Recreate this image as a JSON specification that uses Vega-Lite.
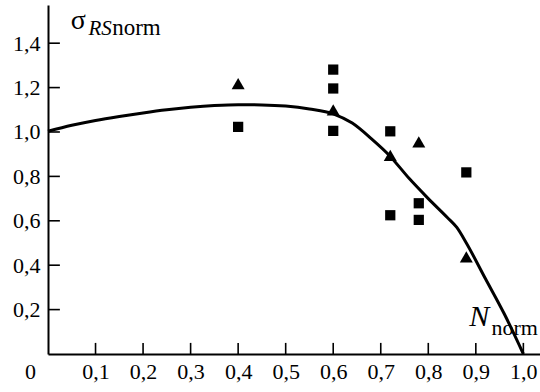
{
  "$schema": "https://vega.github.io/schema/vega-lite/v6.json",
  "width": 492,
  "height": 349,
  "autosize": "none",
  "padding": {"left": 48, "top": 5, "right": 0, "bottom": 38},
  "background": "white",
  "config": {
    "view": {"stroke": null},
    "font": "Liberation Serif",
    "axis": {
      "grid": false,
      "domainColor": "black",
      "domainWidth": 2,
      "ticks": false,
      "tickSize": 0,
      "labelFont": "Liberation Serif",
      "labelFontSize": 22,
      "labelColor": "black",
      "labelOverlap": false,
      "labelFlush": false,
      "title": null
    }
  },
  "datasets": {
    "curve": [
      {"n": 0.0, "s": 1.003},
      {"n": 0.05, "s": 1.03},
      {"n": 0.1, "s": 1.052},
      {"n": 0.15, "s": 1.07},
      {"n": 0.2, "s": 1.086},
      {"n": 0.25, "s": 1.1},
      {"n": 0.3, "s": 1.111},
      {"n": 0.35, "s": 1.119},
      {"n": 0.4, "s": 1.123},
      {"n": 0.45, "s": 1.122},
      {"n": 0.5, "s": 1.117},
      {"n": 0.55, "s": 1.104},
      {"n": 0.6, "s": 1.082},
      {"n": 0.64, "s": 1.04},
      {"n": 0.68, "s": 0.97},
      {"n": 0.72, "s": 0.89},
      {"n": 0.76, "s": 0.79},
      {"n": 0.8, "s": 0.7},
      {"n": 0.84, "s": 0.615},
      {"n": 0.86, "s": 0.57},
      {"n": 0.88, "s": 0.5},
      {"n": 0.92, "s": 0.34},
      {"n": 0.96, "s": 0.18},
      {"n": 1.0, "s": 0.0}
    ],
    "squares": [
      {"n": 0.4, "s": 1.023},
      {"n": 0.6, "s": 1.281},
      {"n": 0.6, "s": 1.196},
      {"n": 0.6, "s": 1.005},
      {"n": 0.72, "s": 1.003},
      {"n": 0.72, "s": 0.625},
      {"n": 0.78, "s": 0.679},
      {"n": 0.78, "s": 0.604},
      {"n": 0.88, "s": 0.818}
    ],
    "triangles": [
      {"n": 0.4, "s": 1.218},
      {"n": 0.6, "s": 1.1},
      {"n": 0.72, "s": 0.895},
      {"n": 0.78, "s": 0.955},
      {"n": 0.88, "s": 0.437}
    ],
    "xticks": [
      {"n": 0.1, "lo": 0, "hi": 0.05}, {"n": 0.2, "lo": 0, "hi": 0.05}, {"n": 0.3, "lo": 0, "hi": 0.05},
      {"n": 0.4, "lo": 0, "hi": 0.05}, {"n": 0.5, "lo": 0, "hi": 0.05}, {"n": 0.6, "lo": 0, "hi": 0.05},
      {"n": 0.7, "lo": 0, "hi": 0.05}, {"n": 0.8, "lo": 0, "hi": 0.05}, {"n": 0.9, "lo": 0, "hi": 0.05},
      {"n": 1.0, "lo": 0, "hi": 0.05}
    ],
    "yticks": [
      {"s": 0.2, "lo": 0, "hi": 0.025}, {"s": 0.4, "lo": 0, "hi": 0.025}, {"s": 0.6, "lo": 0, "hi": 0.025},
      {"s": 0.8, "lo": 0, "hi": 0.025}, {"s": 1.0, "lo": 0, "hi": 0.025}, {"s": 1.2, "lo": 0, "hi": 0.025},
      {"s": 1.4, "lo": 0, "hi": 0.025}
    ]
  },
  "layer": [
    {
      "data": {"name": "curve"},
      "mark": {"type": "line", "color": "black", "strokeWidth": 3, "interpolate": "monotone"},
      "encoding": {
        "x": {
          "field": "n", "type": "quantitative",
          "scale": {"domain": [0, 1.035], "nice": false, "zero": false},
          "axis": {
            "values": [0, 0.1, 0.2, 0.3, 0.4, 0.5, 0.6, 0.7, 0.8, 0.9, 1.0],
            "labelExpr": "datum.value == 0 ? '0' : replace(format(datum.value, '.1f'), '.', ',')",
            "labelPadding": 7,
            "labelOffset": {"condition": {"test": "datum.value == 0", "value": -18}, "value": 0}
          }
        },
        "y": {
          "field": "s", "type": "quantitative",
          "scale": {"domain": [0, 1.572], "nice": false, "zero": false},
          "axis": {
            "values": [0.2, 0.4, 0.6, 0.8, 1.0, 1.2, 1.4],
            "labelExpr": "replace(format(datum.value, '.1f'), '.', ',')",
            "labelPadding": 8
          }
        }
      }
    },
    {
      "data": {"name": "xticks"},
      "mark": {"type": "rule", "color": "black", "strokeWidth": 1.6, "opacity": 1},
      "encoding": {
        "x": {"field": "n", "type": "quantitative"},
        "y": {"field": "lo", "type": "quantitative"},
        "y2": {"field": "hi"}
      }
    },
    {
      "data": {"name": "yticks"},
      "mark": {"type": "rule", "color": "black", "strokeWidth": 1.6, "opacity": 1},
      "encoding": {
        "y": {"field": "s", "type": "quantitative"},
        "x": {"field": "lo", "type": "quantitative"},
        "x2": {"field": "hi"}
      }
    },
    {
      "data": {"name": "squares"},
      "mark": {"type": "point", "shape": "square", "filled": true, "color": "black", "opacity": 1, "size": 105},
      "encoding": {
        "x": {"field": "n", "type": "quantitative"},
        "y": {"field": "s", "type": "quantitative"}
      }
    },
    {
      "data": {"name": "triangles"},
      "mark": {"type": "point", "shape": "triangle-up", "filled": true, "color": "black", "opacity": 1, "size": 169},
      "encoding": {
        "x": {"field": "n", "type": "quantitative"},
        "y": {"field": "s", "type": "quantitative"}
      }
    },
    {
      "data": {"values": [{"n": 0.048, "s": 1.465, "t": "σ"}]},
      "mark": {"type": "text", "font": "Liberation Serif", "fontSize": 28, "align": "left", "baseline": "alphabetic", "color": "black"},
      "encoding": {
        "x": {"field": "n", "type": "quantitative"},
        "y": {"field": "s", "type": "quantitative"},
        "text": {"field": "t"}
      }
    },
    {
      "data": {"values": [{"n": 0.085, "s": 1.437, "t": "RS"}]},
      "mark": {"type": "text", "font": "Liberation Serif", "fontSize": 21, "fontStyle": "italic", "align": "left", "baseline": "alphabetic", "color": "black"},
      "encoding": {
        "x": {"field": "n", "type": "quantitative"},
        "y": {"field": "s", "type": "quantitative"},
        "text": {"field": "t"}
      }
    },
    {
      "data": {"values": [{"n": 0.135, "s": 1.437, "t": "norm"}]},
      "mark": {"type": "text", "font": "Liberation Serif", "fontSize": 23, "align": "left", "baseline": "alphabetic", "color": "black"},
      "encoding": {
        "x": {"field": "n", "type": "quantitative"},
        "y": {"field": "s", "type": "quantitative"},
        "text": {"field": "t"}
      }
    },
    {
      "data": {"values": [{"n": 0.886, "s": 0.125, "t": "N"}]},
      "mark": {"type": "text", "font": "Liberation Serif", "fontSize": 30, "fontStyle": "italic", "align": "left", "baseline": "alphabetic", "color": "black"},
      "encoding": {
        "x": {"field": "n", "type": "quantitative"},
        "y": {"field": "s", "type": "quantitative"},
        "text": {"field": "t"}
      }
    },
    {
      "data": {"values": [{"n": 0.933, "s": 0.085, "t": "norm"}]},
      "mark": {"type": "text", "font": "Liberation Serif", "fontSize": 22, "align": "left", "baseline": "alphabetic", "color": "black"},
      "encoding": {
        "x": {"field": "n", "type": "quantitative"},
        "y": {"field": "s", "type": "quantitative"},
        "text": {"field": "t"}
      }
    }
  ]
}
